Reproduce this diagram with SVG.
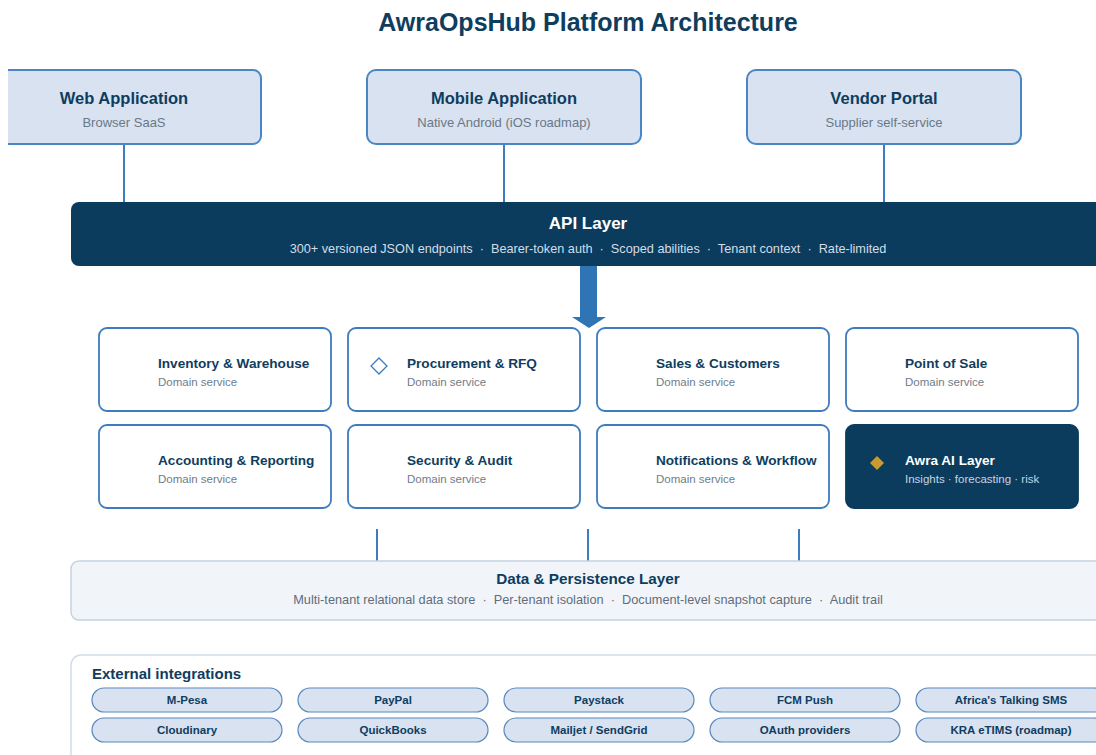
<svg xmlns="http://www.w3.org/2000/svg" width="1096" height="755" viewBox="0 0 1096 755">
<defs>
<style>
text{font-family:"Liberation Sans",Arial,Helvetica,sans-serif;}
.title{font-size:25px;font-weight:bold;fill:#0f3d5e;text-anchor:middle;}
.client{fill:#d8e2f1;stroke:#4a86c5;stroke-width:2;}
.ct{font-size:16.5px;font-weight:bold;fill:#0f3d5e;text-anchor:middle;}
.cs{font-size:13px;fill:#6b7886;text-anchor:middle;}
.conn{stroke:#3c7dc0;stroke-width:2;fill:none;}
.api{fill:#0b3c5d;}
.at{font-size:17px;font-weight:bold;fill:#ffffff;text-anchor:middle;}
.as{font-size:12.7px;fill:#d3dde8;text-anchor:middle;white-space:pre;}
.dom{fill:#ffffff;stroke:#3e7cc0;stroke-width:1.8;}
.domai{fill:#0b3c5d;stroke:#0b3c5d;stroke-width:1.8;}
.dt{font-size:13.6px;font-weight:bold;fill:#0f3d5e;}
.ds{font-size:11.5px;fill:#6f7c8a;}
.dtw{font-size:13.6px;font-weight:bold;fill:#ffffff;}
.dsw{font-size:11.5px;fill:#c5d3e1;}
.data{fill:#f1f5fa;stroke:#c5d2df;stroke-width:1.5;}
.dat{font-size:15.3px;font-weight:bold;fill:#0f3d5e;text-anchor:middle;}
.das{font-size:12.75px;fill:#5f6d7c;text-anchor:middle;white-space:pre;}
.ext{fill:#ffffff;stroke:#d3dce6;stroke-width:1.5;}
.et{font-size:15px;font-weight:bold;fill:#0f3d5e;}
.pill{fill:#d8e2f1;stroke:#5a88bd;stroke-width:1.2;}
.pt{font-size:11.5px;font-weight:bold;fill:#0f3d5e;text-anchor:middle;}
</style>
</defs>
<rect x="0" y="0" width="1096" height="755" fill="#ffffff"/>
<text class="title" x="588" y="31">AwraOpsHub Platform Architecture</text>

<g id="connectors">
<line class="conn" x1="124" y1="144" x2="124" y2="202"/>
<line class="conn" x1="504" y1="144" x2="504" y2="202"/>
<line class="conn" x1="884" y1="144" x2="884" y2="202"/>
<path d="M580,266 H597 V317 H606 L589,328 L572,317 H580 Z" fill="#2f74b5"/>
<line class="conn" x1="377" y1="529" x2="377" y2="561"/>
<line class="conn" x1="588" y1="529" x2="588" y2="561"/>
<line class="conn" x1="799" y1="529" x2="799" y2="561"/>
</g>

<g id="web-app">
<path class="client" d="M8,70 H253 A8,8 0 0 1 261,78 V136 A8,8 0 0 1 253,144 H8"/>
<rect x="8" y="71" width="2" height="72" fill="#d8e2f1"/>
<text class="ct" x="124" y="104">Web Application</text>
<text class="cs" x="124" y="127">Browser SaaS</text>
</g>
<g id="mobile-app">
<rect class="client" x="367" y="70" width="274" height="74" rx="9"/>
<text class="ct" x="504" y="104">Mobile Application</text>
<text class="cs" x="504" y="127">Native Android (iOS roadmap)</text>
</g>
<g id="vendor-portal">
<rect class="client" x="747" y="70" width="274" height="74" rx="9"/>
<text class="ct" x="884" y="104">Vendor Portal</text>
<text class="cs" x="884" y="127">Supplier self-service</text>
</g>

<g id="api-layer">
<rect class="api" x="71" y="202" width="1060" height="64" rx="8"/>
<text class="at" x="588" y="229">API Layer</text>
<text class="as" x="588" y="253">300+ versioned JSON endpoints  ·  Bearer-token auth  ·  Scoped abilities  ·  Tenant context  ·  Rate-limited</text>
</g>

<g id="inventory">
<rect class="dom" x="99" y="328" width="232" height="83" rx="8"/>
<text class="dt" x="158" y="368">Inventory &amp; Warehouse</text>
<text class="ds" x="158" y="386">Domain service</text>
</g>
<g id="procurement">
<rect class="dom" x="348" y="328" width="232" height="83" rx="8"/>
<path d="M379,358 L387,366 L379,374 L371,366 Z" fill="none" stroke="#3e7cc0" stroke-width="1.3"/>
<text class="dt" x="407" y="368">Procurement &amp; RFQ</text>
<text class="ds" x="407" y="386">Domain service</text>
</g>
<g id="sales">
<rect class="dom" x="597" y="328" width="232" height="83" rx="8"/>
<text class="dt" x="656" y="368">Sales &amp; Customers</text>
<text class="ds" x="656" y="386">Domain service</text>
</g>
<g id="pos">
<rect class="dom" x="846" y="328" width="232" height="83" rx="8"/>
<text class="dt" x="905" y="368">Point of Sale</text>
<text class="ds" x="905" y="386">Domain service</text>
</g>
<g id="accounting">
<rect class="dom" x="99" y="425" width="232" height="83" rx="8"/>
<text class="dt" x="158" y="465">Accounting &amp; Reporting</text>
<text class="ds" x="158" y="483">Domain service</text>
</g>
<g id="security">
<rect class="dom" x="348" y="425" width="232" height="83" rx="8"/>
<text class="dt" x="407" y="465">Security &amp; Audit</text>
<text class="ds" x="407" y="483">Domain service</text>
</g>
<g id="notifications">
<rect class="dom" x="597" y="425" width="232" height="83" rx="8"/>
<text class="dt" x="656" y="465">Notifications &amp; Workflow</text>
<text class="ds" x="656" y="483">Domain service</text>
</g>
<g id="awra-ai">
<rect class="domai" x="846" y="425" width="232" height="83" rx="8"/>
<path d="M877,456 L884,463 L877,470 L870,463 Z" fill="#c99a2e"/>
<text class="dtw" x="905" y="465">Awra AI Layer</text>
<text class="dsw" x="905" y="483">Insights · forecasting · risk</text>
</g>

<g id="data-layer">
<rect class="data" x="71" y="561" width="1060" height="59" rx="8"/>
<text class="dat" x="588" y="584">Data &amp; Persistence Layer</text>
<text class="das" x="588" y="604">Multi-tenant relational data store  ·  Per-tenant isolation  ·  Document-level snapshot capture  ·  Audit trail</text>
</g>

<g id="external">
<rect class="ext" x="71" y="655" width="1060" height="120" rx="10"/>
<text class="et" x="92" y="679">External integrations</text>
<rect class="pill" x="92" y="688" width="190" height="24" rx="12"/>
<text class="pt" x="187" y="704">M-Pesa</text>
<rect class="pill" x="298" y="688" width="190" height="24" rx="12"/>
<text class="pt" x="393" y="704">PayPal</text>
<rect class="pill" x="504" y="688" width="190" height="24" rx="12"/>
<text class="pt" x="599" y="704">Paystack</text>
<rect class="pill" x="710" y="688" width="190" height="24" rx="12"/>
<text class="pt" x="805" y="704">FCM Push</text>
<rect class="pill" x="916" y="688" width="190" height="24" rx="12"/>
<text class="pt" x="1011" y="704">Africa's Talking SMS</text>
<rect class="pill" x="92" y="718" width="190" height="24" rx="12"/>
<text class="pt" x="187" y="734">Cloudinary</text>
<rect class="pill" x="298" y="718" width="190" height="24" rx="12"/>
<text class="pt" x="393" y="734">QuickBooks</text>
<rect class="pill" x="504" y="718" width="190" height="24" rx="12"/>
<text class="pt" x="599" y="734">Mailjet / SendGrid</text>
<rect class="pill" x="710" y="718" width="190" height="24" rx="12"/>
<text class="pt" x="805" y="734">OAuth providers</text>
<rect class="pill" x="916" y="718" width="190" height="24" rx="12"/>
<text class="pt" x="1011" y="734">KRA eTIMS (roadmap)</text>
</g>
</svg>
